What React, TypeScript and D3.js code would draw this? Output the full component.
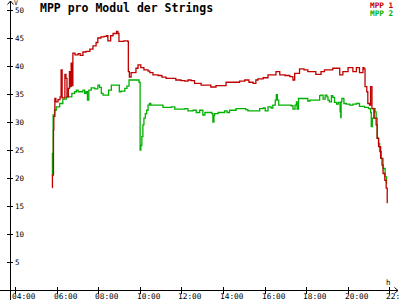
import React from "react";
import * as d3 from "d3";

const title = "MPP pro Modul der Strings";
const seriesNames = ["MPP 1", "MPP 2"];
const seriesColors = ["#c00000", "#00b000"];
const xTickLabels = ["04:00", "06:00", "08:00", "10:00", "12:00", "14:00", "16:00", "18:00", "20:00", "22:00"];
const yTickValues = [5, 10, 15, 20, 25, 30, 35, 40, 45, 50];

const mpp1Times = ["05:47","05:48","05:51","05:52","05:55","05:58","06:04","06:10","06:13","06:16","06:21","06:24","06:27","06:30","06:34","06:37","06:39","06:42","06:44","06:47","06:53","07:02","07:08","07:16","07:25","07:36","07:45","07:54","07:59","08:08","08:17","08:24","08:28","08:36","08:43","08:53","08:57","09:00","09:14","09:25","09:27","09:30","09:35","09:43","09:49","09:55","10:03","10:12","10:24","10:29","10:38","10:53","11:04","11:16","11:30","11:44","11:59","12:10","12:19","12:28","12:38","12:48","12:57","13:11","13:25","13:40","14:00","14:09","14:26","14:48","15:03","15:15","15:27","15:35","15:41","15:56","16:10","16:24","16:33","16:44","16:59","17:13","17:22","17:27","17:41","17:54","18:05","18:20","18:28","18:43","18:53","19:03","19:17","19:37","19:46","20:01","20:15","20:25","20:34","20:44","20:47","20:50","20:55","20:58","21:03","21:06","21:10","21:16","21:22","21:25","21:29","21:35","21:39","21:42","21:47","21:51","21:54"];
const mpp1Values = [18.3,20.5,28.6,31,34.2,33.6,34.0,34.5,39.3,34.3,34.3,38.5,37.8,34.5,36,39,36.3,40.5,36.5,42.3,42.0,42.2,41.9,42.5,42.6,43.0,43.6,44.2,45.0,45.2,45.3,45.4,44.5,45.4,45.8,46.2,45.8,44.4,44.5,44.4,39,38.0,38.8,38.8,39.6,40.2,39.7,39.3,39.1,38.8,38.4,38.3,38.0,37.8,37.8,37.5,37.4,37.3,37.5,37.4,36.9,36.9,36.6,36.6,36.25,36.5,36.5,37.1,37.1,37.3,37.5,37.1,36.9,37.5,37.7,37.9,38.4,38.4,39.0,38.4,38.3,38.1,37.5,38.7,39.5,39.3,39.0,39.0,38.5,39.0,39.3,39.3,39.6,38.4,39.0,39.7,39.0,39.7,38.8,39.7,39.5,36.3,35.4,33.3,33.0,36.3,32.4,30.7,29.5,27.1,25.6,23.5,22.3,20.8,19.6,18.2,15.5];

const mpp2Times = ["05:47","05:48","05:50","05:54","05:59","06:09","06:18","06:28","06:36","06:44","06:52","06:57","07:02","07:11","07:16","07:21","07:25","07:29","07:33","07:40","07:50","07:59","08:04","08:09","08:14","08:26","08:30","08:38","08:57","09:01","09:06","09:12","09:17","09:23","09:29","09:55","09:58","10:01","10:03","10:06","10:09","10:12","10:16","10:20","10:24","10:28","10:32","10:38","11:02","11:07","11:21","11:31","11:41","12:00","12:10","12:19","12:34","12:43","12:53","13:02","13:08","13:22","13:28","13:31","13:34","13:36","13:46","14:05","14:12","14:19","14:29","14:38","15:03","15:06","15:12","15:41","15:46","15:56","16:02","16:10","16:19","16:24","16:31","16:34","16:37","16:41","16:59","17:17","17:22","17:28","17:32","17:34","17:38","18:00","18:05","18:11","18:34","18:39","18:43","18:49","18:55","19:00","19:03","19:07","19:13","19:17","19:22","19:28","19:33","19:38","19:40","19:41","19:43","19:49","19:56","20:06","20:15","20:25","20:34","20:49","21:00","21:06","21:08","21:11","21:16","21:19","21:22","21:25","21:29","21:32","21:37","21:42","21:48","21:52"];
const mpp2Values = [20.5,24.4,31.25,32.1,32.7,33.3,34.1,34.5,34.5,35.1,35.4,35.7,35.4,35.4,35.7,35.1,35.4,33.9,35.7,36.1,35.9,36.6,36.2,35.1,34.8,34.8,35.7,36.6,36.6,35.4,35.5,35.5,36.0,36.4,37.5,37.5,37.1,25,25.8,27.4,29.5,30.7,31.5,32.1,33,33.3,33.0,33.0,33.0,32.6,32.6,32.7,32.3,32.3,32.4,32.0,32.1,31.7,32.1,31.25,31.7,31.7,31.5,30.0,31.2,31.5,31.7,32.0,31.7,32.1,32.1,32.4,32.4,32.2,32.0,32.0,32.4,32.5,32.0,32.7,32.5,33.0,33.9,34.9,33.9,33.0,33.0,32.9,32.3,33.0,33.6,32.3,34.2,34.2,33.75,33.9,33.9,34.7,34.8,34.1,34.8,34.5,33.9,33.6,34.7,34.4,33.5,33.2,33.5,31.8,30.8,33.6,34.2,33.3,33.2,33.0,33.2,33.3,32.8,32.6,32.4,31.7,29.2,30.7,32.4,31.8,30.7,27.1,26.2,24.7,23.5,21.7,20.2,19.0];

const toHours = (s: string) => {
  const [h, m] = s.split(":").map(Number);
  return h + m / 60;
};

export default function App() {
  const W = 400, H = 300;
  const x = d3.scaleLinear().domain([4, 22]).range([15, 389.3]);
  const y = d3.scaleLinear().domain([0, 50]).range([290, 10]);
  const axisX = 10.5;
  const axisY = 290.5;
  const font = "'DejaVu Sans Mono', monospace";

  const line = d3
    .line<[number, number]>()
    .x((d) => x(d[0]))
    .y((d) => y(d[1]))
    .curve(d3.curveStepAfter);

  const s1: [number, number][] = mpp1Times.map((t, i) => [toHours(t), mpp1Values[i]]);
  const s2: [number, number][] = mpp2Times.map((t, i) => [toHours(t), mpp2Values[i]]);

  return (
    <svg width={W} height={H} style={{ position: "absolute", left: 0, top: 0, background: "#fff" }}>
      <rect x={0} y={0} width={W} height={H} fill="#fff" />
      <path d={line(s2) || ""} fill="none" stroke={seriesColors[1]} strokeWidth={1.3} />
      <path d={line(s1) || ""} fill="none" stroke={seriesColors[0]} strokeWidth={1.3} />

      <line x1={axisX} y1={300} x2={axisX} y2={1} stroke="#000" strokeWidth={1} />
      <polyline points={`${axisX - 3},4.5 ${axisX},1 ${axisX + 3},4.5`} fill="none" stroke="#000" strokeWidth={1} />
      <text x={14} y={5} fontFamily={font} fontSize={6.5} fill="#000">V</text>
      {yTickValues.map((v) => (
        <g key={v}>
          <line x1={7} x2={13} y1={Math.round(y(v)) + 0.5} y2={Math.round(y(v)) + 0.5} stroke="#000" />
          <text x={15} y={y(v) + 3.2} fontFamily={font} fontSize={7.5} fill="#000">{v}</text>
        </g>
      ))}

      <line x1={0} y1={axisY} x2={398} y2={axisY} stroke="#000" strokeWidth={1} />
      <polyline points={`394.5,${axisY - 3} 398,${axisY} 394.5,${axisY + 3}`} fill="none" stroke="#000" strokeWidth={1} />
      <text x={386} y={285} fontFamily={font} fontSize={7.5} fill="#000">h</text>
      {xTickLabels.map((lab) => {
        const px = Math.round(x(toHours(lab))) + 0.5;
        return (
          <g key={lab}>
            <line x1={px} x2={px} y1={287} y2={294} stroke="#000" />
            <text x={px - 3.5} y={299} fontFamily={font} fontSize={7.8} fill="#000">{lab}</text>
          </g>
        );
      })}

      <text x={40} y={12} fontFamily={font} fontSize={11.5} fontWeight="bold" fill="#000">{title}</text>

      {seriesNames.map((n, i) => (
        <text key={n} x={370} y={7.5 + i * 8} fontFamily={font} fontSize={7.7} fontWeight="bold" fill={seriesColors[i]}>{n}</text>
      ))}
    </svg>
  );
}
